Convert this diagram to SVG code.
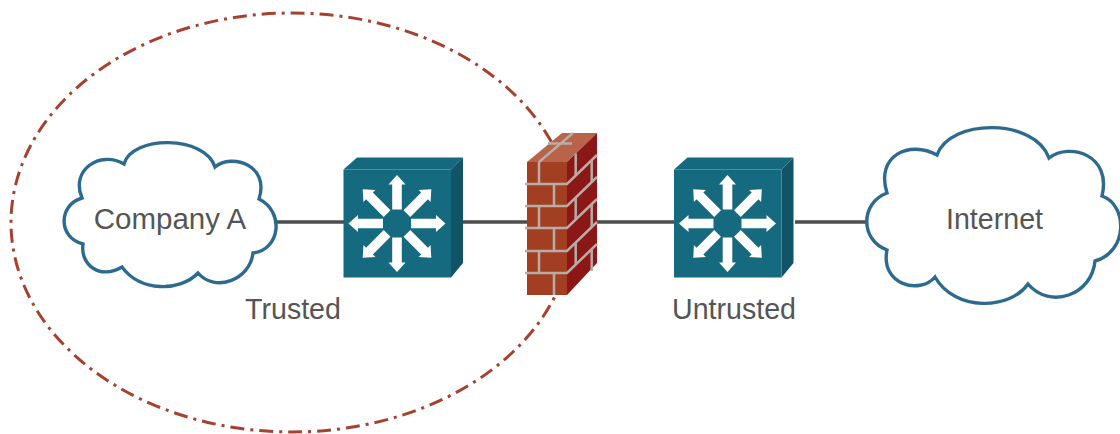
<svg xmlns="http://www.w3.org/2000/svg" width="1120" height="434" viewBox="0 0 1120 434">
<style>
.lbl{font-family:"Liberation Sans",Arial,sans-serif;font-size:28.6px;fill:#555;text-anchor:middle}
.cloud{fill:#fff;stroke:#2d6a8f;stroke-width:3.4;stroke-linejoin:miter}
.link{stroke:#4d4d4d;stroke-width:3.6;fill:none}
.m{stroke:#b8aca4;stroke-width:2.5;fill:none}
.arw{fill:#fff}
</style>
<defs>
<path id="ar" class="arw" d="M-4.800,-14V-39H-8.500L0,-48.500L8.500,-39H4.800V-14Z"/>
<g id="sw">
<path d="M343.500,169.500L357,157.500H463L451,169.500Z" fill="#16687f"/>
<path d="M451,169.500L463,157.500V263L451,277.500Z" fill="#125467"/>
<rect x="343.500" y="169.500" width="107.500" height="108" fill="#166a80"/>
<g transform="translate(397,223.500)">
<use href="#ar"/>
<use href="#ar" transform="rotate(45)"/>
<use href="#ar" transform="rotate(90)"/>
<use href="#ar" transform="rotate(135)"/>
<use href="#ar" transform="rotate(180)"/>
<use href="#ar" transform="rotate(225)"/>
<use href="#ar" transform="rotate(270)"/>
<use href="#ar" transform="rotate(315)"/>
</g>
</g>
</defs>
<ellipse id="trusted-zone" cx="292" cy="222.500" rx="281" ry="209.500" fill="none" stroke="#a5422f" stroke-width="3" stroke-dasharray="14 6 3 6"/>
<g id="connectors">
<line class="link" x1="270" y1="222" x2="344" y2="222"/>
<line class="link" x1="463" y1="222" x2="528" y2="222"/>
<line class="link" x1="597" y1="222" x2="675" y2="222"/>
<line class="link" x1="795" y1="222" x2="872" y2="222"/>
</g>
<g id="company-a">
<path class="cloud" d="M124,164C132,135 205,135 215,167C232,153 270,165 259,199C285,212 280,250 253,253C250,280 215,293 198,273C180,292 140,292 122,267C100,280 80,265 83,244C58,238 58,205 82,198C70,170 100,150 124,164Z"/>
<text class="lbl" x="170" y="229" style="font-size:29.500px">Company A</text>
</g>
<g id="switch-1"><use href="#sw"/></g>
<g id="firewall">
<path d="M527,162L562,133H597L567,162Z" fill="#b9634a"/>
<path d="M567,162L597,133V263L567,295Z" fill="#8b1717"/>
<rect x="527" y="162" width="40" height="133" fill="#a23f23"/>
<path class="m" d="M525,184H567L597,155M525,206H567L597,177M525,228H567L597,199M525,251H567L597,222M525,273H567L597,244"/>
<path class="m" d="M539,162V184M554,184V206M539,206V228M554,228V251M539,251V273M554,273V295"/>
<path class="m" d="M575.700,153.500V175.500M575.700,197.500V219.500M575.700,242.500V264.500M591.700,160V182M591.700,204V227M591.700,249V271"/>
<path class="m" d="M539,162L573,133M548,143.500H572"/>
</g>
<g id="switch-2"><use href="#sw" x="330.500"/></g>
<g id="internet">
<path class="cloud" d="M937,155C950,118 1035,118 1049,158C1070,142 1112,155 1102,196C1128,205 1128,252 1095,261C1092,295 1050,310 1028,284C1010,310 955,312 935,277C920,295 880,285 887,250C860,240 860,203 887,193C875,155 910,140 937,155Z"/>
<text class="lbl" x="994.500" y="229">Internet</text>
</g>
<text class="lbl" x="293" y="319">Trusted</text>
<text class="lbl" x="734" y="319">Untrusted</text>
</svg>
